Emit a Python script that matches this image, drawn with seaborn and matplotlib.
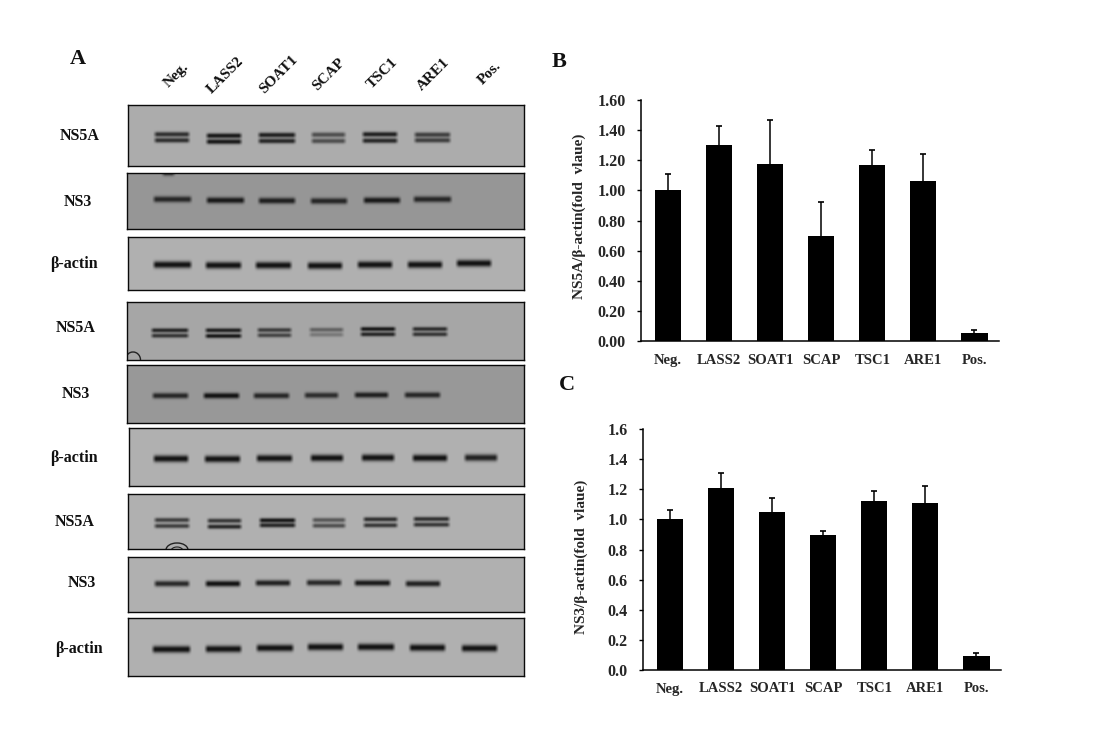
import numpy as np
import pandas as pd
import matplotlib
matplotlib.use("Agg")
import matplotlib.pyplot as plt
from matplotlib.patches import Arc
from matplotlib.transforms import ScaledTranslation
import seaborn as sns

W, H = 1099, 739

sns.set_theme(style="ticks")
plt.rcParams["font.family"] = ["Liberation Serif", "DejaVu Serif"]
plt.rcParams["font.weight"] = "bold"

lanes = ["Neg.", "LASS2", "SOAT1", "SCAP", "TSC1", "ARE1", "Pos."]

# bar charts
ns5a_values = [1.00, 1.30, 1.175, 0.70, 1.17, 1.065, 0.05]
ns5a_errors = [0.11, 0.13, 0.295, 0.22, 0.10, 0.175, 0.02]
ns3_values = [1.00, 1.21, 1.05, 0.895, 1.12, 1.11, 0.09]
ns3_errors = [0.06, 0.10, 0.09, 0.03, 0.07, 0.11, 0.025]
ns5a_ticks = ["0.00", "0.20", "0.40", "0.60", "0.80", "1.00", "1.20", "1.40", "1.60"]
ns3_ticks = ["0.0", "0.2", "0.4", "0.6", "0.8", "1.0", "1.2", "1.4", "1.6"]

p1_left = [153, 205, 257, 310, 361, 413]
p1_right = [191, 243, 297, 347, 399, 452]
p1_up = [134.3, 135.7, 135, 134.7, 134.3, 134.7]
p1_low = [140.3, 141.7, 141, 141, 140.7, 140.3]
p1_up_s = [.80, .95, .90, .60, .90, .70]
p1_low_s = [.80, .95, .85, .60, .85, .70]

p2_left = [152, 205, 257, 309, 362, 412, 161]
p2_right = [193, 246, 297, 349, 402, 453, 176]
p2_y = [199.3, 200.3, 200.7, 201, 200.3, 199.3, 172.5]
p2_s = [.85, .95, .90, .85, .95, .85, .9]

p3_left = [152, 204, 254, 306, 356, 406, 455]
p3_right = [193, 243, 293, 344, 394, 444, 493]
p3_y = [264.7, 265.3, 265.3, 265.7, 264.7, 264.7, 263.3]
p3_s = [1, 1, 1, 1, 1, 1, 1]

p4_left = [150, 204, 256, 308, 359, 411]
p4_right = [190, 243, 293, 345, 397, 449]
p4_up = [330.3, 330.3, 330, 329.7, 329, 329]
p4_low = [335.7, 336, 335.3, 334.7, 334.3, 334.3]
p4_up_s = [.85, .90, .70, .45, .95, .80]
p4_low_s = [.75, .95, .65, .30, .85, .75]

p5_left = [151, 202, 252, 303, 353, 403]
p5_right = [190, 241, 291, 340, 390, 442]
p5_y = [395.7, 395.7, 395.7, 395.3, 395, 395]
p5_s = [.85, 1, .85, .80, .90, .85]

p6_left = [152, 203, 255, 309, 360, 411, 463]
p6_right = [190, 242, 294, 345, 396, 449, 499]
p6_y = [458.7, 459, 458.3, 458, 457.7, 458, 457.7]
p6_s = [1, 1, 1, 1, 1, 1, .9]

p7_left = [153, 206, 258, 311, 362, 412]
p7_right = [191, 243, 297, 347, 399, 451]
p7_up = [520, 520.7, 520.3, 520, 519.3, 519]
p7_low = [526, 526.7, 525.3, 525.7, 525.3, 524.7]
p7_up_s = [.70, .75, .95, .55, .80, .80]
p7_low_s = [.70, .85, .85, .60, .75, .75]

p8_left = [153, 204, 254, 305, 353, 404]
p8_right = [191, 242, 292, 343, 392, 442]
p8_y = [583.7, 583.7, 583, 582.7, 583, 583.7]
p8_s = [.85, 1, .90, .85, .95, .90]

p9_left = [151, 204, 255, 306, 356, 408, 460]
p9_right = [192, 243, 295, 345, 396, 447, 499]
p9_y = [649.3, 649, 648, 647, 647, 647.7, 648.3]
p9_s = [1, 1, 1, 1, 1, 1, 1]

fig = plt.figure(figsize=(W / 100, H / 100), dpi=100, facecolor="white")


def px_axes(x0, y0, x1, y1):
    return fig.add_axes([x0 / W, 1 - y1 / H, (x1 - x0) / W, (y1 - y0) / H])


def px_text(x, y, s, size, rotation=0):
    fig.text(x / W, 1 - y / H, s, fontsize=size, rotation=rotation,
             ha="center", va="center", color="#111111", fontweight="bold")


def blot(box, shade, left, right, rows, strengths, sigma):
    x0, y0, x1, y1 = box
    xs = np.arange(x0, x1) + 0.5
    ys = np.arange(y0, y1) + 0.5
    img = np.full((len(ys), len(xs)), float(shade))
    for row, strength in zip(rows, strengths):
        for l, r, y, s in zip(left, right, row, strength):
            across = np.clip((xs - l) / 4, 0, 1) * np.clip((r - xs) / 4, 0, 1)
            down = np.exp(-np.abs((ys - y) / sigma) ** 2.2)
            img -= (shade - 20) * s * np.outer(down, across)
    ax = px_axes(x0, y0, x1, y1)
    sns.heatmap(np.clip(img, 15, 255), cmap="gray", vmin=0, vmax=255, cbar=False,
                xticklabels=False, yticklabels=False, ax=ax)
    for sp in ax.spines.values():
        sp.set_visible(True)
        sp.set_color("#0a0a0a")
        sp.set_linewidth(1.0)
    return ax


blot((128, 105, 524, 166), 172, p1_left, p1_right, [p1_up, p1_low], [p1_up_s, p1_low_s], 2.5)
blot((127, 173, 524, 229), 150, p2_left, p2_right, [p2_y], [p2_s], 3.1)
blot((128, 237, 524, 290), 176, p3_left, p3_right, [p3_y], [p3_s], 3.5)
ax4 = blot((127, 302, 524, 360), 166, p4_left, p4_right, [p4_up, p4_low], [p4_up_s, p4_low_s], 2.2)
blot((127, 365, 524, 423), 152, p5_left, p5_right, [p5_y], [p5_s], 2.9)
blot((129, 428, 524, 486), 176, p6_left, p6_right, [p6_y], [p6_s], 3.5)
ax7 = blot((128, 494, 524, 549), 176, p7_left, p7_right, [p7_up, p7_low], [p7_up_s, p7_low_s], 2.3)
blot((128, 557, 524, 612), 176, p8_left, p8_right, [p8_y], [p8_s], 3.0)
blot((128, 618, 524, 676), 176, p9_left, p9_right, [p9_y], [p9_s], 3.5)

# marks left by the film edge
ax4.add_patch(Arc((6, 58), 15, 16, color="#222222", lw=1.0))
ax7.add_patch(Arc((49, 56), 22, 14, color="#222222", lw=1.0))
ax7.add_patch(Arc((49, 57), 12, 8, color="#222222", lw=0.8))


def bar_panel(box, values, errors, tick_labels, ylabel, label_x, label_y):
    x0, y0, x1, y1 = box
    ax = px_axes(x0, y0, x1, y1)
    df = pd.DataFrame({"lane": lanes, "value": values})
    sns.barplot(data=df, x="lane", y="value", color="black", saturation=1,
                width=0.51, errorbar=None, edgecolor="black", linewidth=0, ax=ax)
    pos = np.arange(len(lanes))
    eb = ax.errorbar(pos, values, yerr=[np.zeros(len(pos)), errors], fmt="none",
                     ecolor="black", elinewidth=1.1, capsize=2.2, capthick=1.2)
    eb[1][0].set_visible(False)
    ax.set_xlim(-0.53, 6.48)
    ax.set_ylim(0, 1.6)
    ax.set_yticks(np.linspace(0, 1.6, 9))
    ax.set_yticklabels(tick_labels, fontsize=11.5, fontweight="bold")
    nudge = ScaledTranslation(0, 1.5 / 100, fig.dpi_scale_trans)
    for t in ax.get_yticklabels():
        t.set_transform(t.get_transform() + nudge)
    ax.tick_params(axis="y", length=3, width=1.0, pad=8, color="black")
    ax.tick_params(axis="x", length=0, pad=9)
    ax.set_xticks(pos)
    ax.set_xticklabels(lanes, fontsize=10.5, fontweight="bold")
    ax.set_xlabel("")
    ax.set_ylabel(ylabel, fontsize=11, fontweight="bold")
    ax.yaxis.set_label_coords((label_x - x0) / (x1 - x0), (y1 - label_y) / (y1 - y0))
    sns.despine(ax=ax)
    for side in ["left", "bottom"]:
        ax.spines[side].set_linewidth(1.1)
        ax.spines[side].set_color("black")
    ax.patch.set_alpha(0)
    return ax


bar_panel((641, 100, 999, 341), ns5a_values, ns5a_errors, ns5a_ticks,
          "NS5A/β-actin(fold  vlaue)", 586, 216)
bar_panel((643, 429, 1001, 670), ns3_values, ns3_errors, ns3_ticks,
          "NS3/β-actin(fold  vlaue)", 588, 557)

px_text(78, 59, "A", 16)
px_text(559, 62, "B", 16)
px_text(567, 385, "C", 16)

lane_xy = [(176, 75), (225, 75), (279, 75), (329, 74), (382, 73), (433, 74), (490, 73)]
for name, (x, y) in zip(lanes, lane_xy):
    px_text(x, y, name, 11, rotation=45)

side_labels = ["NS5A", "NS3", "β-actin", "NS5A", "NS3", "β-actin", "NS5A", "NS3", "β-actin"]
side_x = [80, 78, 74, 76, 76, 74, 75, 82, 79]
side_y = [136, 202, 264, 328, 394, 458, 522, 583, 649]
for s, x, y in zip(side_labels, side_x, side_y):
    px_text(x, y, s, 11.5)

fig.savefig("out.png", dpi=100, facecolor="white")
